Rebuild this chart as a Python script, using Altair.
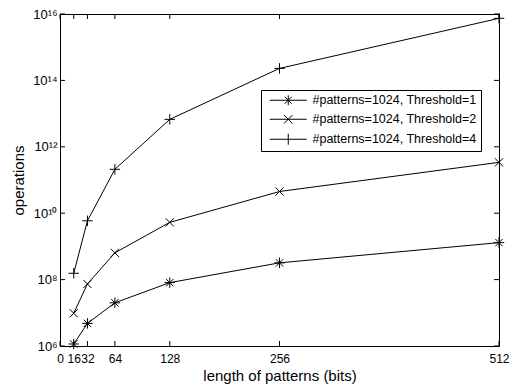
import altair as alt
import pandas as pd

lengths = [16, 32, 64, 128, 256, 512]
ops_t1 = [1.15e6, 4.8e6, 2.0e7, 8.1e7, 3.2e8, 1.3e9]
ops_t2 = [9.7e6, 7.4e7, 6.4e8, 5.3e9, 4.5e10, 3.4e11]
ops_t4 = [1.55e8, 5.9e9, 2.1e11, 6.7e12, 2.3e14, 7.4e15]
series_names = [
    "#patterns=1024, Threshold=1",
    "#patterns=1024, Threshold=2",
    "#patterns=1024, Threshold=4",
]
x_ticks = [0, 16, 32, 64, 128, 256, 512]
y_ticks = [1e6, 1e8, 1e10, 1e12, 1e14, 1e16]
y_exps = [6, 8, 10, 12, 14, 16]
y_labels = ["10\u2076", "10\u2078", "10\u00b9\u2070", "10\u00b9\u00b2", "10\u00b9\u2074", "10\u00b9\u2076"]

rows = []
for name, vals in zip(series_names, [ops_t1, ops_t2, ops_t4]):
    for l, v in zip(lengths, vals):
        rows.append({"length": l, "ops": v, "series": name})
df = pd.DataFrame(rows)
tick_x = pd.DataFrame({"length": x_ticks})
tick_y = pd.DataFrame({"ops": y_ticks})

W, H = 439, 332
TICK = 5

x_scale = alt.Scale(domain=[0, 512], nice=False, zero=False)
y_scale = alt.Scale(type="log", domain=[1e6, 1e16], nice=False)

expr = "''"
for e, lab in zip(y_exps, y_labels):
    expr = f"round(log(datum.value)/LN10) == {e} ? '{lab}' : ({expr})"

# marker shapes (unit box -1..1)
AST = "M0,-1V1M-1,0H1M-0.7,-0.7L0.7,0.7M-0.7,0.7L0.7,-0.7"
CRS = "M-0.78,-0.78L0.78,0.78M-0.78,0.78L0.78,-0.78"
PLS = "M0,-1V1M-1,0H1"
# legend symbols: line with marker in the middle (symbol size 100 -> unit = 5px)
L_AST = "M-3.7,0H3.7M0,-1V1M-0.7,-0.7L0.7,0.7M-0.7,0.7L0.7,-0.7"
L_CRS = "M-3.7,0H3.7M-0.85,-0.85L0.85,0.85M-0.85,0.85L0.85,-0.85"
L_PLS = "M-3.7,0H3.7M0,-1.1V1.1"

main_x = alt.Axis(values=x_ticks, ticks=False, domain=False, grid=False,
                  labelFontSize=12, labelColor="black", labelPadding=7,
                  labelFlush=False, labelOverlap=False, format="d",
                  title="length of patterns (bits)", titleFontSize=15,
                  titleFontWeight="normal", titleColor="black", titlePadding=4)
main_y = alt.Axis(values=y_ticks, labelExpr=expr, ticks=False, domain=False,
                  grid=False, labelFontSize=13, labelColor="black",
                  labelPadding=3, labelFlush=False, labelOverlap=False,
                  title="operations", titleFontSize=15, titleFontWeight="normal",
                  titleColor="black", titlePadding=6)

X = alt.X("length:Q", scale=x_scale, axis=main_x)
Y = alt.Y("ops:Q", scale=y_scale, axis=main_y)

lines = alt.Chart(df).mark_line(color="black", strokeWidth=1).encode(
    x=X, y=Y, detail="series:N", order="length:Q",
)

points = alt.Chart(df).mark_point(filled=False, color="black", size=110,
                                  strokeWidth=1, opacity=1).encode(
    x=X, y=Y,
    shape=alt.Shape("series:N", scale=alt.Scale(domain=series_names,
                    range=[AST, CRS, PLS]), legend=None),
)

legend_layer = alt.Chart(df).transform_filter("datum.length < 0").mark_point(
    filled=False, color="black", size=100, strokeWidth=1, opacity=1).encode(
    x=X, y=Y,
    shape=alt.Shape("series:N", scale=alt.Scale(domain=series_names,
                    range=[L_AST, L_CRS, L_PLS]),
                    legend=alt.Legend(title=None, orient="none", legendX=201,
                                      legendY=76, strokeColor="black",
                                      fillColor="white", padding=4,
                                      cornerRadius=0, labelFontSize=12.5,
                                      labelColor="black", labelLimit=400,
                                      labelOffset=18, symbolOffset=17,
                                      rowPadding=5, symbolSize=100,
                                      symbolStrokeColor="black",
                                      symbolFillColor="transparent",
                                      symbolStrokeWidth=1, symbolOpacity=1)),
)

# inward tick marks on all four sides of the box
ticks_bottom = alt.Chart(tick_x).mark_rule(color="black", strokeWidth=1).encode(
    x=X, y=alt.value(H), y2=alt.value(H - TICK))
ticks_top = alt.Chart(tick_x).mark_rule(color="black", strokeWidth=1).encode(
    x=X, y=alt.value(0), y2=alt.value(TICK))
ticks_left = alt.Chart(tick_y).mark_rule(color="black", strokeWidth=1).encode(
    y=Y, x=alt.value(0), x2=alt.value(TICK))
ticks_right = alt.Chart(tick_y).mark_rule(color="black", strokeWidth=1).encode(
    y=Y, x=alt.value(W), x2=alt.value(W - TICK))

chart = alt.layer(
    lines, points, ticks_bottom, ticks_top, ticks_left, ticks_right, legend_layer
).resolve_scale(
    shape="independent"
).properties(
    width=W, height=H,
    padding={"left": 60, "top": 14, "right": 14, "bottom": 44},
    autosize=alt.AutoSizeParams(type="none"),
).configure(
    font="Liberation Sans", background="white"
).configure_view(stroke="black", strokeWidth=1)

chart.save("out.html", embed_options={"renderer": "svg", "actions": False})
